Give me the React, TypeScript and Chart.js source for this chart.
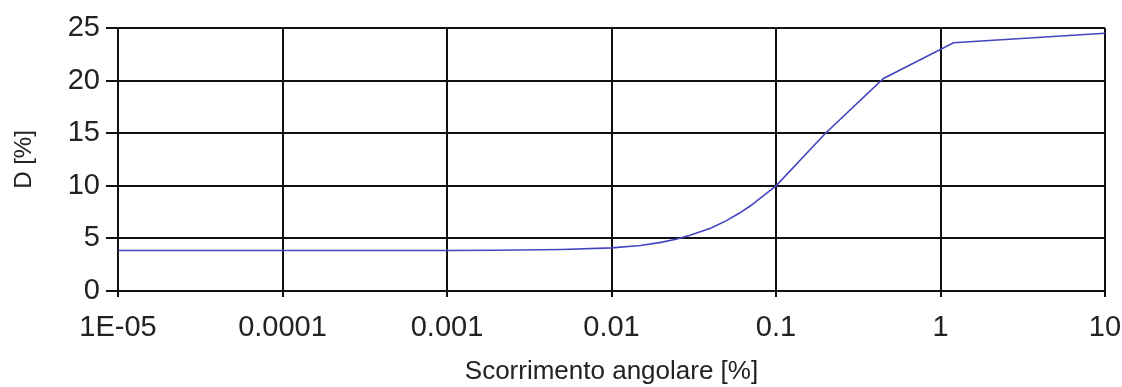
import React, { useEffect, useRef } from "react";
import { Chart, registerables } from "chart.js";

Chart.register(...registerables);

// Shear strain [%] (x) and damping D [%] (y)
const strainValues = [1e-5, 1e-4, 1e-3, 0.002, 0.005, 0.01, 0.015, 0.02, 0.025, 0.03, 0.04, 0.05, 0.06, 0.07, 0.08, 0.1, 0.2, 0.45, 1.2, 10];
const dampingValues = [3.85, 3.85, 3.85, 3.87, 3.95, 4.1, 4.33, 4.62, 4.95, 5.29, 5.96, 6.69, 7.41, 8.1, 8.8, 10.0, 15.0, 20.2, 23.6, 24.5];

const xTickValues = [1e-5, 1e-4, 1e-3, 1e-2, 1e-1, 1, 10];
const xTickLabels = ["1E-05", "0.0001", "0.001", "0.01", "0.1", "1", "10"];

const xTitle = "Scorrimento angolare [%]";
const yTitle = "D [%]";

export default function App() {
  const canvasRef = useRef<HTMLCanvasElement | null>(null);

  useEffect(() => {
    if (!canvasRef.current) return;
    const fontFamily = "'Liberation Sans', Arial, sans-serif";
    const chart = new Chart(canvasRef.current, {
      type: "line",
      data: {
        datasets: [
          {
            data: strainValues.map((x, i) => ({ x, y: dampingValues[i] })),
            borderColor: "#4444c0",
            borderWidth: 1.6,
            pointRadius: 0,
            tension: 0,
            fill: false,
          },
        ],
      },
      options: {
        animation: false,
        responsive: true,
        maintainAspectRatio: false,
        layout: { padding: { top: 28, right: 17, left: 0, bottom: 0 } },
        plugins: { legend: { display: false }, tooltip: { enabled: false } },
        scales: {
          x: {
            type: "logarithmic",
            min: 1e-5,
            max: 10,
            afterBuildTicks: (scale: any) => {
              scale.ticks = xTickValues.map((v) => ({ value: v }));
            },
            afterFit: (scale: any) => {
              scale.height = 96;
              scale.paddingRight = 17;
              scale.paddingLeft = 0;
            },
            ticks: {
              autoSkip: false,
              maxRotation: 0,
              padding: 14,
              color: "#222",
              font: { family: fontFamily, size: 29 },
              callback: (value: any) => {
                const idx = xTickValues.findIndex((v) => Math.abs(Math.log10(v) - Math.log10(Number(value))) < 1e-6);
                return idx >= 0 ? xTickLabels[idx] : "";
              },
            },
            grid: { color: "#111", lineWidth: 2, tickLength: 6, drawTicks: true },
            border: { display: true, color: "#111", width: 2 },
            title: {
              display: true,
              text: xTitle,
              color: "#222",
              font: { family: fontFamily, size: 26 },
              padding: { top: 0, bottom: 0 },
            },
          },
          y: {
            min: 0,
            max: 25,
            afterFit: (scale: any) => {
              scale.width = 118;
            },
            ticks: {
              stepSize: 5,
              padding: 6,
              color: "#222",
              font: { family: fontFamily, size: 29 },
            },
            grid: { color: "#111", lineWidth: 2, tickLength: 12 },
            border: { display: true, color: "#111", width: 2 },
            title: {
              display: true,
              text: yTitle,
              color: "#222",
              font: { family: fontFamily, size: 24 },
              padding: { top: 10, bottom: 0 },
            },
          },
        },
      },
    });
    return () => chart.destroy();
  }, []);

  return (
    <div style={{ position: "absolute", left: 0, top: 0, width: 1122, height: 387, background: "#fff" }}>
      <canvas ref={canvasRef} />
    </div>
  );
}
